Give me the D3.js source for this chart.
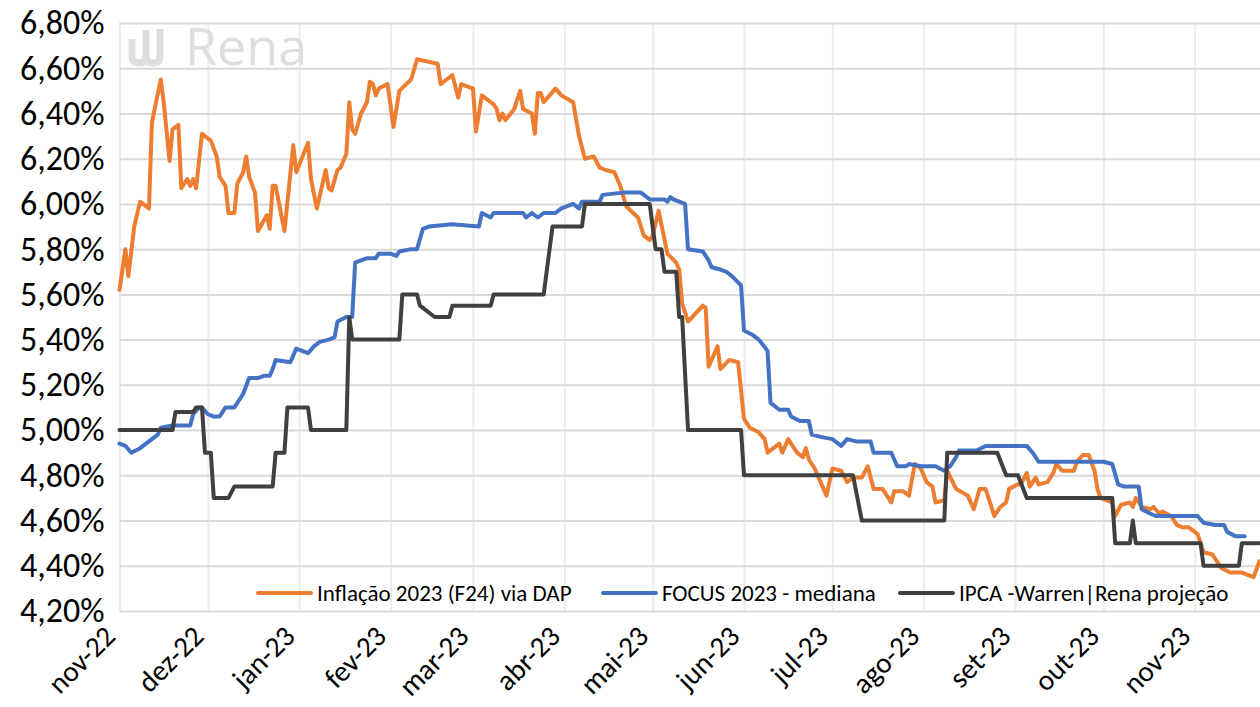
<!DOCTYPE html>
<html>
<head>
<meta charset="utf-8">
<script src="https://cdn.jsdelivr.net/npm/d3@7"></script>
<style>
  html, body { margin: 0; padding: 0; background: #fff; }
  svg { display: block; font-family: Carlito, Lato, "Open Sans", sans-serif; }
</style>
</head>
<body>
<svg id="chart" width="1260" height="707"></svg>
<script>
// month tick labels (pt-BR)
const monthLabels = ["nov-22","dez-22","jan-23","fev-23","mar-23","abr-23","mai-23","jun-23","jul-23","ago-23","set-23","out-23","nov-23"];
const yTickValues = [4.2, 4.4, 4.6, 4.8, 5.0, 5.2, 5.4, 5.6, 5.8, 6.0, 6.2, 6.4, 6.6, 6.8];
const legendNames = ["Inflação 2023 (F24) via DAP", "FOCUS 2023 - mediana", "IPCA -Warren|Rena projeção"];

// Inflação 2023 (F24) via DAP
const dapSeries = [["2022-11-01",5.62],["2022-11-03",5.80],["2022-11-04",5.68],["2022-11-06",5.90],["2022-11-08",6.01],["2022-11-11",5.98],["2022-11-12",6.36],["2022-11-15",6.55],["2022-11-16",6.45],["2022-11-18",6.19],["2022-11-19",6.33],["2022-11-21",6.35],["2022-11-22",6.07],["2022-11-24",6.11],["2022-11-25",6.08],["2022-11-26",6.11],["2022-11-27",6.07],["2022-11-29",6.31],["2022-12-02",6.28],["2022-12-04",6.21],["2022-12-05",6.12],["2022-12-07",6.08],["2022-12-08",5.96],["2022-12-10",5.96],["2022-12-11",6.09],["2022-12-13",6.14],["2022-12-14",6.21],["2022-12-15",6.12],["2022-12-17",6.05],["2022-12-18",5.88],["2022-12-21",5.95],["2022-12-22",5.89],["2022-12-23",6.08],["2022-12-24",6.08],["2022-12-27",5.88],["2022-12-30",6.26],["2022-12-31",6.14],["2023-01-04",6.27],["2023-01-05",6.11],["2023-01-07",5.98],["2023-01-10",6.15],["2023-01-11",6.07],["2023-01-12",6.06],["2023-01-14",6.15],["2023-01-15",6.16],["2023-01-17",6.22],["2023-01-18",6.45],["2023-01-19",6.33],["2023-01-20",6.31],["2023-01-22",6.40],["2023-01-24",6.45],["2023-01-25",6.54],["2023-01-26",6.53],["2023-01-27",6.48],["2023-01-28",6.51],["2023-01-31",6.53],["2023-02-02",6.34],["2023-02-04",6.50],["2023-02-08",6.55],["2023-02-10",6.64],["2023-02-17",6.62],["2023-02-18",6.53],["2023-02-22",6.57],["2023-02-24",6.47],["2023-02-25",6.53],["2023-03-01",6.51],["2023-03-02",6.32],["2023-03-04",6.48],["2023-03-08",6.44],["2023-03-09",6.42],["2023-03-10",6.37],["2023-03-11",6.40],["2023-03-12",6.37],["2023-03-15",6.42],["2023-03-17",6.50],["2023-03-18",6.42],["2023-03-21",6.40],["2023-03-22",6.31],["2023-03-23",6.49],["2023-03-24",6.49],["2023-03-25",6.45],["2023-03-29",6.51],["2023-03-31",6.48],["2023-04-04",6.45],["2023-04-06",6.30],["2023-04-08",6.20],["2023-04-11",6.21],["2023-04-13",6.16],["2023-04-15",6.15],["2023-04-18",6.14],["2023-04-20",6.08],["2023-04-22",5.99],["2023-04-26",5.94],["2023-04-28",5.86],["2023-04-30",5.84],["2023-05-01",5.86],["2023-05-03",5.97],["2023-05-06",5.78],["2023-05-09",5.74],["2023-05-10",5.71],["2023-05-11",5.56],["2023-05-13",5.48],["2023-05-18",5.55],["2023-05-19",5.54],["2023-05-20",5.28],["2023-05-23",5.37],["2023-05-24",5.27],["2023-05-27",5.31],["2023-05-30",5.30],["2023-06-01",5.05],["2023-06-03",5.01],["2023-06-06",4.99],["2023-06-08",4.96],["2023-06-09",4.90],["2023-06-13",4.94],["2023-06-14",4.90],["2023-06-16",4.96],["2023-06-19",4.90],["2023-06-21",4.88],["2023-06-22",4.92],["2023-06-23",4.87],["2023-06-25",4.83],["2023-06-27",4.77],["2023-06-29",4.71],["2023-07-01",4.83],["2023-07-04",4.82],["2023-07-06",4.77],["2023-07-08",4.79],["2023-07-11",4.79],["2023-07-13",4.84],["2023-07-15",4.74],["2023-07-18",4.74],["2023-07-21",4.68],["2023-07-22",4.73],["2023-07-25",4.73],["2023-07-27",4.71],["2023-07-29",4.85],["2023-07-31",4.83],["2023-08-02",4.77],["2023-08-04",4.75],["2023-08-05",4.68],["2023-08-08",4.69],["2023-08-09",4.82],["2023-08-12",4.74],["2023-08-16",4.71],["2023-08-18",4.65],["2023-08-20",4.74],["2023-08-22",4.74],["2023-08-25",4.62],["2023-08-27",4.66],["2023-08-29",4.68],["2023-08-30",4.74],["2023-09-02",4.76],["2023-09-03",4.76],["2023-09-05",4.81],["2023-09-06",4.75],["2023-09-08",4.79],["2023-09-09",4.76],["2023-09-12",4.77],["2023-09-14",4.81],["2023-09-15",4.85],["2023-09-17",4.82],["2023-09-21",4.82],["2023-09-22",4.86],["2023-09-24",4.89],["2023-09-26",4.89],["2023-09-28",4.82],["2023-09-29",4.74],["2023-09-30",4.70],["2023-10-04",4.68],["2023-10-05",4.62],["2023-10-07",4.67],["2023-10-10",4.68],["2023-10-11",4.66],["2023-10-12",4.70],["2023-10-14",4.66],["2023-10-17",4.65],["2023-10-18",4.66],["2023-10-20",4.63],["2023-10-21",4.64],["2023-10-24",4.62],["2023-10-26",4.58],["2023-10-28",4.57],["2023-10-30",4.57],["2023-11-02",4.54],["2023-11-04",4.46],["2023-11-07",4.45],["2023-11-10",4.39],["2023-11-13",4.37],["2023-11-15",4.37],["2023-11-17",4.37],["2023-11-19",4.36],["2023-11-21",4.35],["2023-11-23",4.42]];

// FOCUS 2023 - mediana
const focusSeries = [["2022-11-01",4.94],["2022-11-03",4.93],["2022-11-05",4.90],["2022-11-08",4.92],["2022-11-11",4.95],["2022-11-14",4.98],["2022-11-15",5.01],["2022-11-19",5.02],["2022-11-25",5.02],["2022-11-26",5.07],["2022-11-28",5.10],["2022-11-29",5.10],["2022-12-01",5.07],["2022-12-03",5.06],["2022-12-05",5.06],["2022-12-07",5.10],["2022-12-10",5.10],["2022-12-13",5.16],["2022-12-15",5.23],["2022-12-18",5.23],["2022-12-20",5.24],["2022-12-22",5.24],["2022-12-23",5.27],["2022-12-24",5.31],["2022-12-29",5.30],["2022-12-31",5.36],["2023-01-04",5.34],["2023-01-06",5.37],["2023-01-08",5.39],["2023-01-11",5.40],["2023-01-13",5.41],["2023-01-14",5.48],["2023-01-17",5.50],["2023-01-19",5.50],["2023-01-20",5.74],["2023-01-22",5.75],["2023-01-24",5.76],["2023-01-27",5.76],["2023-01-28",5.78],["2023-02-01",5.78],["2023-02-03",5.77],["2023-02-04",5.79],["2023-02-08",5.80],["2023-02-10",5.80],["2023-02-12",5.89],["2023-02-14",5.90],["2023-02-22",5.91],["2023-03-03",5.90],["2023-03-04",5.96],["2023-03-07",5.94],["2023-03-08",5.96],["2023-03-18",5.96],["2023-03-19",5.94],["2023-03-21",5.96],["2023-03-23",5.94],["2023-03-25",5.96],["2023-03-29",5.96],["2023-03-31",5.98],["2023-04-02",5.99],["2023-04-04",6.00],["2023-04-06",5.98],["2023-04-07",6.01],["2023-04-13",6.01],["2023-04-14",6.04],["2023-04-21",6.05],["2023-04-27",6.05],["2023-04-29",6.03],["2023-04-30",6.02],["2023-05-05",6.02],["2023-05-06",6.01],["2023-05-07",6.03],["2023-05-08",6.02],["2023-05-10",6.01],["2023-05-12",6.00],["2023-05-13",5.80],["2023-05-18",5.79],["2023-05-20",5.75],["2023-05-21",5.72],["2023-05-24",5.71],["2023-05-26",5.70],["2023-05-28",5.68],["2023-05-31",5.64],["2023-06-01",5.44],["2023-06-04",5.42],["2023-06-06",5.40],["2023-06-09",5.35],["2023-06-10",5.12],["2023-06-13",5.09],["2023-06-16",5.09],["2023-06-17",5.06],["2023-06-20",5.04],["2023-06-23",5.04],["2023-06-24",4.98],["2023-06-27",4.97],["2023-07-01",4.96],["2023-07-04",4.93],["2023-07-06",4.96],["2023-07-09",4.95],["2023-07-14",4.95],["2023-07-15",4.90],["2023-07-21",4.90],["2023-07-23",4.84],["2023-07-26",4.84],["2023-07-27",4.85],["2023-07-31",4.84],["2023-08-05",4.84],["2023-08-08",4.82],["2023-08-10",4.84],["2023-08-12",4.88],["2023-08-13",4.91],["2023-08-19",4.91],["2023-08-22",4.93],["2023-08-30",4.93],["2023-09-05",4.93],["2023-09-07",4.90],["2023-09-09",4.86],["2023-09-13",4.86],["2023-10-01",4.86],["2023-10-04",4.85],["2023-10-06",4.76],["2023-10-08",4.75],["2023-10-13",4.75],["2023-10-14",4.65],["2023-10-17",4.63],["2023-10-19",4.62],["2023-10-24",4.62],["2023-11-02",4.62],["2023-11-04",4.59],["2023-11-08",4.58],["2023-11-11",4.58],["2023-11-12",4.55],["2023-11-15",4.53],["2023-11-18",4.53]];

// IPCA -Warren|Rena projeção
const warrenSeries = [["2022-11-01",5.00],["2022-11-19",5.00],["2022-11-20",5.08],["2022-11-26",5.08],["2022-11-27",5.10],["2022-11-29",5.10],["2022-11-30",4.90],["2022-12-02",4.90],["2022-12-03",4.70],["2022-12-08",4.70],["2022-12-10",4.75],["2022-12-23",4.75],["2022-12-24",4.90],["2022-12-27",4.90],["2022-12-28",5.10],["2023-01-04",5.10],["2023-01-05",5.00],["2023-01-17",5.00],["2023-01-18",5.50],["2023-01-19",5.40],["2023-02-04",5.40],["2023-02-05",5.60],["2023-02-10",5.60],["2023-02-11",5.55],["2023-02-16",5.50],["2023-02-21",5.50],["2023-02-22",5.55],["2023-03-07",5.55],["2023-03-08",5.60],["2023-03-25",5.60],["2023-03-28",5.90],["2023-04-07",5.90],["2023-04-08",6.00],["2023-04-30",6.00],["2023-05-02",5.80],["2023-05-04",5.80],["2023-05-05",5.70],["2023-05-09",5.70],["2023-05-10",5.50],["2023-05-11",5.50],["2023-05-13",5.00],["2023-05-31",5.00],["2023-06-01",4.80],["2023-07-08",4.80],["2023-07-11",4.60],["2023-08-08",4.60],["2023-08-09",4.90],["2023-08-26",4.90],["2023-08-29",4.80],["2023-09-02",4.80],["2023-09-05",4.70],["2023-10-04",4.70],["2023-10-05",4.50],["2023-10-10",4.50],["2023-10-11",4.60],["2023-10-12",4.50],["2023-11-03",4.50],["2023-11-04",4.40],["2023-11-16",4.40],["2023-11-17",4.50],["2023-11-23",4.50]];

const colors = ["#ED7D31", "#4472C4", "#404040"];

const width = 1260;
const height = 707;
const plotLeft = 119.5, plotRight = 1259.5, plotTop = 23, plotBottom = 611;

const parse = d3.utcParse("%Y-%m-%d");
const svg = d3.select("#chart");

const xScale = d3.scaleUtc()
  .domain([parse("2022-11-01"), parse("2023-11-23")])
  .range([plotLeft, plotRight]);

const yScale = d3.scaleLinear()
  .domain([4.2, 6.8])
  .range([plotBottom, plotTop]);

const ptBR = d3.formatLocale({decimal: ",", thousands: ".", grouping: [3], currency: ["R$", ""]});
const pct = ptBR.format(".2f");

const monthTicks = d3.utcMonth.range(parse("2022-11-01"), parse("2023-11-02"));

// vertical gridlines (month starts)
const xGrid = d3.axisBottom(xScale)
  .tickValues(monthTicks)
  .tickSize(-(plotBottom - plotTop))
  .tickFormat("");
svg.append("g")
  .attr("transform", `translate(0,${plotBottom})`)
  .call(xGrid)
  .call(g => g.select(".domain").remove())
  .call(g => g.selectAll("line").attr("stroke", "#ececec").attr("stroke-width", 2));

// horizontal gridlines + y labels
const yAxis = d3.axisLeft(yScale)
  .tickValues(yTickValues)
  .tickSize(-(plotRight - plotLeft + 1))
  .tickPadding(15)
  .tickFormat(d => pct(d) + "%");
svg.append("g")
  .attr("transform", `translate(${plotLeft},0)`)
  .call(yAxis)
  .call(g => g.select(".domain").remove())
  .call(g => g.selectAll("line").attr("stroke", "#d9d9d9").attr("stroke-width", 2))
  .call(g => g.selectAll("text")
    .attr("font-family", "Carlito, Lato, sans-serif")
    .attr("font-size", 34)
    .attr("fill", "#000"));

// x labels, rotated
const xAxis = d3.axisBottom(xScale)
  .tickValues(monthTicks)
  .tickSize(0)
  .tickFormat((d, i) => monthLabels[i]);
svg.append("g")
  .attr("transform", `translate(0,${plotBottom})`)
  .call(xAxis)
  .call(g => g.select(".domain").remove())
  .call(g => g.selectAll("text")
    .attr("font-family", "Carlito, Lato, sans-serif")
    .attr("font-size", 29)
    .attr("fill", "#000")
    .attr("text-anchor", "end")
    .attr("dy", null)
    .attr("y", 0)
    .attr("transform", "translate(-3,27) rotate(-45)"));

// watermark
const wm = svg.append("g").attr("fill", "none").attr("stroke", "#dedede").attr("stroke-width", 7).attr("stroke-linecap", "butt");
wm.append("path").attr("d", "M132,39 V56 Q132,63 139,63 Q146,63 146,56 V30");
wm.append("path").attr("d", "M146,56 Q146,63 153,63 Q160,63 160,56 V29");
svg.append("text")
  .attr("x", 185).attr("y", 65)
  .attr("font-family", "'Open Sans', sans-serif")
  .attr("font-size", 52)
  .attr("fill", "#dedede")
  .text("Rena");

// lines
const line = d3.line()
  .x(d => xScale(parse(d[0])))
  .y(d => yScale(d[1]));

[dapSeries, focusSeries, warrenSeries].forEach((s, i) => {
  svg.append("path")
    .attr("d", line(s))
    .attr("fill", "none")
    .attr("stroke", colors[i])
    .attr("stroke-width", 4)
    .attr("stroke-linejoin", "round")
    .attr("stroke-linecap", "round");
});

// legend
const legendX = [258, 603, 900];
const legend = svg.append("g");
legendNames.forEach((name, i) => {
  const g = legend.append("g").attr("transform", `translate(${legendX[i]},593)`);
  g.append("line")
    .attr("x1", 0).attr("x2", 53)
    .attr("stroke", colors[i])
    .attr("stroke-width", 4)
    .attr("stroke-linecap", "round");
  g.append("text")
    .attr("x", 59).attr("y", 8)
    .attr("font-family", "Carlito, Lato, sans-serif")
    .attr("font-size", 23)
    .attr("fill", "#000")
    .text(name);
});
</script>
</body>
</html>
